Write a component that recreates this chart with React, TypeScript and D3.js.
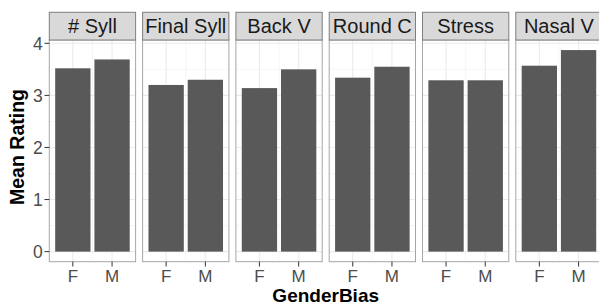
import React, { useRef, useEffect } from 'react';
import * as d3 from 'd3';

const facets = ['# Syll', 'Final Syll', 'Back V', 'Round C', 'Stress', 'Nasal V'];
const genders = ['F', 'M'];
const femaleValues = [3.52, 3.2, 3.14, 3.34, 3.29, 3.57];
const maleValues = [3.69, 3.3, 3.5, 3.55, 3.29, 3.87];
const yTicks = [0, 1, 2, 3, 4];
const yMinor = [0.5, 1.5, 2.5, 3.5];

const App = () => {
  const svgRef = useRef<SVGSVGElement>(null);

  useEffect(() => {
    if (!svgRef.current) return;
    const svg = d3.select(svgRef.current);
    svg.selectAll('*').remove();

    const width = 599;
    const height = 303;
    const stripTop = 12.3;
    const panelTop = 40;
    const panelBottom = 261.7;
    const left = 49.3;

    const font = 'Liberation Sans, Arial, sans-serif';

    const maxVal = d3.max([...femaleValues, ...maleValues]) as number;
    const pad = maxVal * 0.05;
    const y = d3.scaleLinear().domain([-pad, maxVal + pad]).range([panelBottom, panelTop]);

    const facetX = d3.scaleBand<string>()
      .domain(facets)
      .range([left, 602.1])
      .paddingInner(0.075)
      .paddingOuter(0);
    const pw = facetX.bandwidth();
    const x = d3.scaleLinear().domain([0.4, 2.6]).range([0, pw]);

    facets.forEach((f, i) => {
      const g = svg.append('g').attr('transform', `translate(${facetX(f)},0)`);
      // panel background
      g.append('rect')
        .attr('x', 0).attr('y', panelTop)
        .attr('width', pw).attr('height', panelBottom - panelTop)
        .attr('fill', '#fff');
      // minor grid
      yMinor.forEach(t => {
        g.append('line')
          .attr('x1', 0).attr('x2', pw)
          .attr('y1', y(t)).attr('y2', y(t))
          .attr('stroke', '#F0F0F0').attr('stroke-width', 0.6);
      });
      [1.5].forEach(t => {
        g.append('line')
          .attr('x1', x(t)).attr('x2', x(t))
          .attr('y1', panelTop).attr('y2', panelBottom)
          .attr('stroke', '#F0F0F0').attr('stroke-width', 0.6);
      });
      // major grid
      yTicks.forEach(t => {
        g.append('line')
          .attr('x1', 0).attr('x2', pw)
          .attr('y1', y(t)).attr('y2', y(t))
          .attr('stroke', '#EBEBEB').attr('stroke-width', 1.1);
      });
      genders.forEach((_, k) => {
        g.append('line')
          .attr('x1', x(k + 1)).attr('x2', x(k + 1))
          .attr('y1', panelTop).attr('y2', panelBottom)
          .attr('stroke', '#EBEBEB').attr('stroke-width', 1.1);
      });
      // bars
      const vals = [femaleValues[i], maleValues[i]];
      vals.forEach((v, k) => {
        g.append('rect')
          .attr('x', x(k + 1 - 0.45))
          .attr('width', x(k + 1 + 0.45) - x(k + 1 - 0.45))
          .attr('y', y(v))
          .attr('height', y(0) - y(v))
          .attr('fill', '#595959');
      });
      // panel border
      g.append('rect')
        .attr('x', 0).attr('y', panelTop)
        .attr('width', pw).attr('height', panelBottom - panelTop)
        .attr('fill', 'none')
        .attr('stroke', '#A6A6A6').attr('stroke-width', 1);
      // strip
      g.append('rect')
        .attr('x', 0).attr('y', stripTop)
        .attr('width', pw).attr('height', panelTop - stripTop)
        .attr('fill', '#D9D9D9')
        .attr('stroke', '#7F7F7F').attr('stroke-width', 1);
      g.append('text')
        .attr('x', pw / 2).attr('y', (stripTop + panelTop) / 2)
        .attr('dy', '0.36em')
        .attr('text-anchor', 'middle')
        .attr('fill', '#1A1A1A')
        .style('font-family', font)
        .style('font-size', '20px')
        .text(f);
      // x ticks
      genders.forEach((gname, k) => {
        g.append('line')
          .attr('x1', x(k + 1)).attr('x2', x(k + 1))
          .attr('y1', panelBottom).attr('y2', panelBottom + 4.8)
          .attr('stroke', '#333').attr('stroke-width', 1);
        g.append('text')
          .attr('x', x(k + 1)).attr('y', 282)
          .attr('text-anchor', 'middle')
          .attr('fill', '#4D4D4D')
          .style('font-family', font)
          .style('font-size', '17px')
          .text(gname);
      });
    });

    // y axis
    yTicks.forEach(t => {
      svg.append('line')
        .attr('x1', left - 4.8).attr('x2', left)
        .attr('y1', y(t)).attr('y2', y(t))
        .attr('stroke', '#333').attr('stroke-width', 1);
      svg.append('text')
        .attr('x', left - 6.5).attr('y', y(t))
        .attr('dy', '0.36em')
        .attr('text-anchor', 'end')
        .attr('fill', '#4D4D4D')
        .style('font-family', font)
        .style('font-size', '17.5px')
        .text(t);
    });

    svg.append('text')
      .attr('transform', `translate(23.5,147) rotate(-90)`)
      .attr('text-anchor', 'middle')
      .attr('fill', '#000')
      .style('font-family', font)
      .style('font-size', '19.5px')
      .style('font-weight', 'bold')
      .text('Mean Rating');

    svg.append('text')
      .attr('x', (left + 602.1) / 2).attr('y', 301.5)
      .attr('text-anchor', 'middle')
      .attr('fill', '#000')
      .style('font-family', font)
      .style('font-size', '19px')
      .style('font-weight', 'bold')
      .text('GenderBias');

    svg.attr('width', width).attr('height', height);
  }, []);

  return (
    <div style={{ position: 'fixed', left: 0, top: 0, width: 599, height: 303, background: '#fff', overflow: 'hidden' }}>
      <svg ref={svgRef} width={599} height={303} style={{ display: 'block' }} />
    </div>
  );
};

export default App;
